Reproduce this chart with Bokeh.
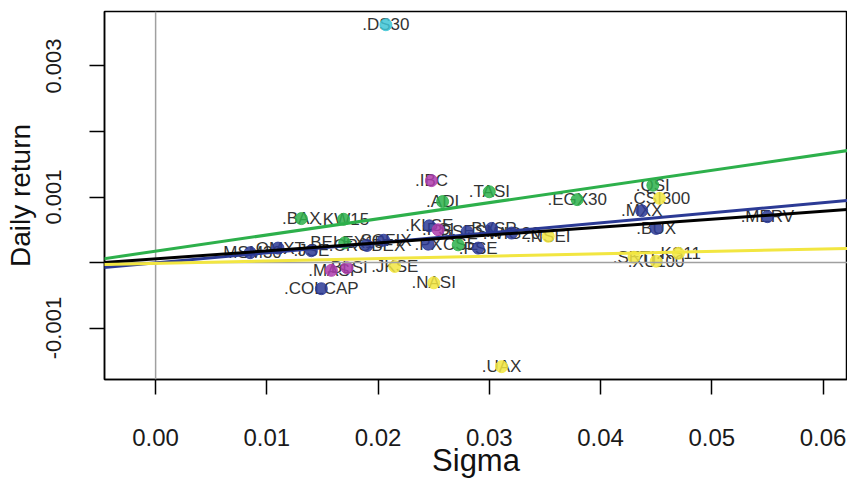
from bokeh.plotting import figure
from bokeh.models import Range1d, FixedTicker, Slope, Span, ColumnDataSource
from bokeh.core.properties import value
from bokeh.embed import file_html
from bokeh.resources import INLINE

# ---- data ----
labels = [".DS30", ".IBC", ".TASI", ".ADI", ".EGX30", ".QSI", ".CSI300", ".MXX",
          ".BUX", ".MERV", ".KS11", ".SETI", ".XU100", ".NASI", ".UAX", ".COLCAP",
          ".BAX", ".KW15", ".MASI", ".BLSI", ".JKSE", ".MSM30", ".OMXT", ".BELEX15",
          ".SOFIX", ".KLSE", ".PSI", ".BSESN", ".BVSP", ".WIG20", ".NSEI", ".PX",
          ".CSE", ".PSE", ".JSE", ".CROBEX"]
sigma = [0.0207, 0.0248, 0.0300, 0.0258, 0.0379, 0.0447, 0.0453, 0.0437,
         0.0450, 0.0550, 0.0470, 0.0430, 0.0450, 0.0250, 0.0311, 0.0149,
         0.0131, 0.0169, 0.0158, 0.0172, 0.0215, 0.0085, 0.0110, 0.0170,
         0.0205, 0.0246, 0.0254, 0.0280, 0.0302, 0.0320, 0.0353, 0.0245,
         0.0272, 0.0290, 0.0140, 0.0190]
ret = [0.00363, 0.00125, 0.00108, 0.00093, 0.00096, 0.00118, 0.00098, 0.00079,
       0.00052, 0.00070, 0.00014, 0.00008, 0.00002, -0.00031, -0.00159, -0.00040,
       0.00067, 0.00066, -0.00012, -0.00008, -0.00006, 0.00015, 0.00022, 0.00030,
       0.00034, 0.00056, 0.00050, 0.00047, 0.00052, 0.00045, 0.00040, 0.00028,
       0.00027, 0.00022, 0.00018, 0.00026]
group = ["cyan", "magenta", "green", "green", "green", "green", "yellow", "blue",
         "blue", "blue", "yellow", "yellow", "yellow", "yellow", "yellow", "blue",
         "green", "green", "magenta", "magenta", "yellow", "blue", "blue", "green",
         "blue", "blue", "magenta", "blue", "blue", "blue", "yellow", "blue",
         "green", "blue", "blue", "blue"]

line_names = ["green", "blue", "black", "yellow"]
line_intercept = [0.000173, -0.000006, 0.0000557, -0.0000135]
line_slope = [0.0247, 0.0153, 0.0121, 0.00365]

x_ticks = [0.00, 0.01, 0.02, 0.03, 0.04, 0.05, 0.06]
x_tick_labels = ["0.00", "0.01", "0.02", "0.03", "0.04", "0.05", "0.06"]
y_ticks = [-0.001, 0.0, 0.001, 0.002, 0.003]
y_tick_labels = ["-0.001", "", "0.001", "", "0.003"]

palette = {"green": "#2DB04B", "blue": "#2B3A95", "black": "#000000",
           "yellow": "#F2E641", "magenta": "#AE3DAE", "cyan": "#3FC6D6"}

FONT = "Liberation Sans"

p = figure(width=847, height=481, output_backend="svg", toolbar_location=None,
           x_range=Range1d(-0.004595, 0.0622), y_range=Range1d(-0.001786, 0.003832),
           min_border_left=104, min_border_right=0, min_border_top=11, min_border_bottom=102,
           x_axis_label="Sigma", y_axis_label="Daily return")
p.background_fill_color = "white"
p.border_fill_color = "white"
p.outline_line_color = "black"
p.outline_line_width = 1.5
p.grid.visible = False

for ax in (p.xaxis[0], p.yaxis[0]):
    ax.axis_line_color = "black"
    ax.axis_line_width = 1.5
    ax.major_tick_line_color = "black"
    ax.major_tick_line_width = 1.5
    ax.major_tick_out = 15
    ax.major_tick_in = 0
    ax.minor_tick_line_color = None
    ax.major_label_text_font = FONT
    ax.major_label_text_color = "#1a1a1a"
    ax.axis_label_text_font = FONT
    ax.axis_label_text_font_style = "normal"
    ax.axis_label_text_color = "#111111"

p.xaxis.ticker = FixedTicker(ticks=x_ticks)
p.xaxis.major_label_overrides = dict(zip(x_ticks, x_tick_labels))
p.xaxis.major_label_text_font_size = "24px"
p.xaxis.major_label_standoff = 34
p.xaxis.axis_label_text_font_size = "31px"
p.xaxis.axis_label_standoff = -6

p.yaxis.ticker = FixedTicker(ticks=y_ticks)
p.yaxis.major_label_overrides = dict(zip(y_ticks, y_tick_labels))
p.yaxis.major_label_orientation = "vertical"
p.yaxis.major_label_text_font_size = "22px"
p.yaxis.major_label_standoff = 28
p.yaxis.axis_label_text_font_size = "28px"
p.yaxis.axis_label_standoff = 8

# reference lines
p.add_layout(Span(location=0, dimension="width", line_color="#A0A0A0", line_width=1.5))
p.add_layout(Span(location=0, dimension="height", line_color="#A0A0A0", line_width=1.5))

src = ColumnDataSource(dict(x=sigma, y=ret, label=labels,
                            color=[palette[g] for g in group]))

p.text(x="x", y="y", text="label", source=src, text_align="center",
       text_baseline="middle", text_font=value(FONT), text_font_size="17px",
       text_color="#333333")
p.scatter(x="x", y="y", source=src, size=12, fill_color="color", line_color="color",
          fill_alpha=0.85, line_alpha=0.85)

for name, b, m in zip(line_names, line_intercept, line_slope):
    p.add_layout(Slope(gradient=m, y_intercept=b, line_color=palette[name], line_width=3))

open("out.html", "w").write(file_html(p, INLINE))
